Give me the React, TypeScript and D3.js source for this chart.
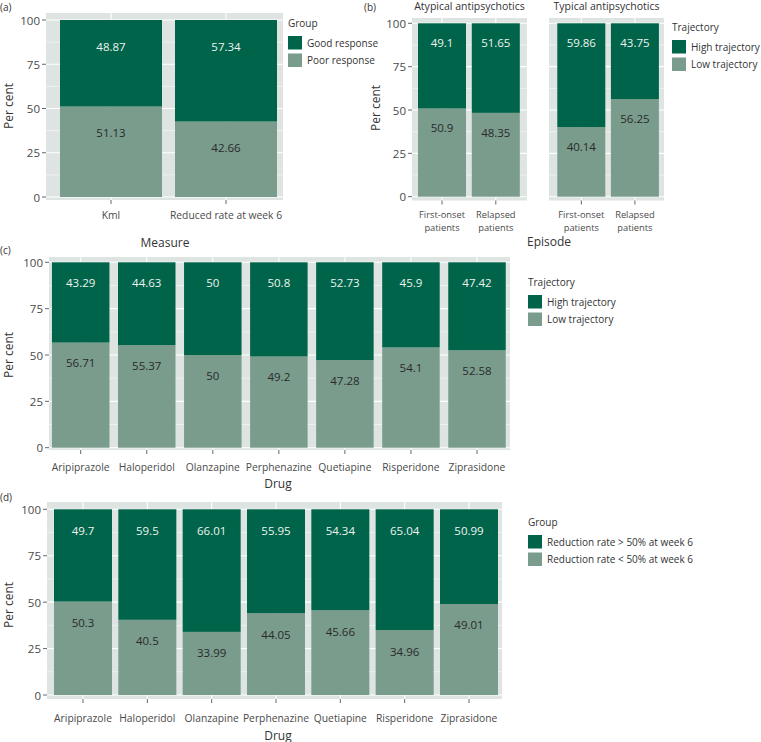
import React from "react";
import * as d3 from "d3";

// ---------- data ----------
const measureCats = ["Kml", "Reduced rate at week 6"];
const goodResponse = [48.87, 57.34];
const poorResponse = [51.13, 42.66];

const facetNames = ["Atypical antipsychotics", "Typical antipsychotics"];
const episodeCats = ["First-onset patients", "Relapsed patients"];
const episodeTickLines = [["First-onset", "patients"], ["Relapsed", "patients"]];
const atypicalHigh = [49.1, 51.65];
const atypicalLow = [50.9, 48.35];
const typicalHigh = [59.86, 43.75];
const typicalLow = [40.14, 56.25];

const drugCats = ["Aripiprazole", "Haloperidol", "Olanzapine", "Perphenazine", "Quetiapine", "Risperidone", "Ziprasidone"];
const drugHighTraj = [43.29, 44.63, 50, 50.8, 52.73, 45.9, 47.42];
const drugLowTraj = [56.71, 55.37, 50, 49.2, 47.28, 54.1, 52.58];
const drugReductionAbove = [49.7, 59.5, 66.01, 55.95, 54.34, 65.04, 50.99];
const drugReductionBelow = [50.3, 40.5, 33.99, 44.05, 45.66, 34.96, 49.01];

const yTicks = [0, 25, 50, 75, 100];
const yMinorTicks = [12.5, 37.5, 62.5, 87.5];

const legendA = { title: "Group", items: ["Good response", "Poor response"] };
const legendB = { title: "Trajectory", items: ["High trajectory", "Low trajectory"] };
const legendD = { title: "Group", items: ["Reduction rate > 50% at week 6", "Reduction rate < 50% at week 6"] };

// ---------- style ----------
const DARK = "#00644a";
const LIGHT = "#7a9c8d";
const PANEL = "#dde4e1";
const FONT = "'Open Sans', 'Noto Sans', sans-serif";
const TXT = "#333333";
const TICKTXT = "#4a4a4a";

type PanelProps = {
  cats: string[];
  top: number[];
  bottom: number[];
  x0: number; x1: number;
  c0: number; c1: number;
  barW: number;
  y0: number; y100: number;
  py0: number; py1: number;
  labelOff: number;
  tickLines?: string[][];
  tickFont: number;
  tickY: number;
  lineGap?: number;
};

function Panel(p: PanelProps) {
  const x = d3.scalePoint<string>().domain(p.cats).range([p.c0, p.c1]);
  const y = d3.scaleLinear().domain([0, 100]).range([p.y0, p.y100]);
  return (
    <g>
      <rect x={p.x0} y={p.py0} width={p.x1 - p.x0} height={p.py1 - p.py0} fill={PANEL} />
      {yMinorTicks.map((t) => (
        <line key={"mn" + t} x1={p.x0} x2={p.x1} y1={y(t)} y2={y(t)} stroke="#ffffff" strokeWidth={0.5} />
      ))}
      {yTicks.map((t) => (
        <line key={"mj" + t} x1={p.x0} x2={p.x1} y1={y(t)} y2={y(t)} stroke="#ffffff" strokeWidth={1.1} />
      ))}
      {p.cats.map((c) => (
        <line key={"vg" + c} x1={x(c)!} x2={x(c)!} y1={p.py0} y2={p.py1} stroke="#ffffff" strokeWidth={1.1} />
      ))}
      {p.cats.map((c, i) => {
        const lo = p.bottom[i];
        const hi = p.top[i];
        const cx = x(c)!;
        return (
          <g key={"bar" + c}>
            <rect x={cx - p.barW / 2} y={y(lo)} width={p.barW} height={y(0) - y(lo)} fill={LIGHT} />
            <rect x={cx - p.barW / 2} y={y(lo + hi)} width={p.barW} height={y(lo) - y(lo + hi)} fill={DARK} />
            <text x={cx} y={y(lo + hi) + p.labelOff} textAnchor="middle" dominantBaseline="central"
              fontSize={11.5} fill="#eef3f0" fontFamily={FONT}>{String(hi)}</text>
            <text x={cx} y={y(lo) + p.labelOff} textAnchor="middle" dominantBaseline="central"
              fontSize={11.5} fill="#2a2a2a" fontFamily={FONT}>{String(lo)}</text>
          </g>
        );
      })}
      {p.cats.map((c, i) => {
        const cx = x(c)!;
        const lines = p.tickLines ? p.tickLines[i] : [c];
        const gap = p.lineGap ?? 11;
        return (
          <g key={"tk" + c}>
            <line x1={cx} x2={cx} y1={p.py1} y2={p.py1 + 4} stroke="#555" strokeWidth={0.9} />
            {lines.map((ln, j) => (
              <text key={j} x={cx} y={p.tickY + j * gap} textAnchor="middle" dominantBaseline="central"
                fontSize={p.tickFont} fill={TICKTXT} fontFamily={FONT}>{ln}</text>
            ))}
          </g>
        );
      })}
    </g>
  );
}

function YAxis({ x, y0, y100 }: { x: number; y0: number; y100: number }) {
  const y = d3.scaleLinear().domain([0, 100]).range([y0, y100]);
  return (
    <g>
      {yTicks.map((t) => (
        <g key={t}>
          <line x1={x - 4} x2={x} y1={y(t)} y2={y(t)} stroke="#555" strokeWidth={0.9} />
          <text x={x - 6} y={y(t)} textAnchor="end" dominantBaseline="central" fontSize={11.5}
            fill={TICKTXT} fontFamily={FONT}>{t}</text>
        </g>
      ))}
    </g>
  );
}

function Legend({ x, y, title, items }: { x: number; y: number; title: string; items: string[] }) {
  const colors = [DARK, LIGHT];
  return (
    <g>
      <text x={x} y={y} dominantBaseline="central" fontSize={10} fill={TXT} fontFamily={FONT}>{title}</text>
      {items.map((it, i) => (
        <g key={it}>
          <rect x={x} y={y + 13 + i * 17.5} width={14} height={13.5} fill={colors[i]} />
          <text x={x + 19} y={y + 13 + i * 17.5 + 6.8} dominantBaseline="central" fontSize={10}
            fill={TXT} fontFamily={FONT}>{it}</text>
        </g>
      ))}
    </g>
  );
}

function YTitle({ x, y }: { x: number; y: number }) {
  return (
    <text transform={`translate(${x},${y}) rotate(-90)`} textAnchor="middle" dominantBaseline="central"
      fontSize={12} fill={TXT} fontFamily={FONT}>Per cent</text>
  );
}

function Tag({ x, y, t }: { x: number; y: number; t: string }) {
  return (
    <text x={x} y={y} dominantBaseline="central" fontSize={10} fill={TXT} fontFamily={FONT}>{t}</text>
  );
}

export default function App() {
  return (
    <svg width={761} height={742} style={{ position: "absolute", left: 0, top: 0, background: "#fff" }}>
      {/* (a) */}
      <Tag x={0} y={7} t="(a)" />
      <YTitle x={8} y={106} />
      <YAxis x={46} y0={197} y100={20} />
      <Panel cats={measureCats} top={goodResponse} bottom={poorResponse}
        x0={46} x1={283} c0={111} c1={226} barW={102}
        y0={197} y100={20} py0={13} py1={200} labelOff={26}
        tickFont={10.3} tickY={215} />
      <text x={165} y={242} textAnchor="middle" dominantBaseline="central" fontSize={12} fill={TXT} fontFamily={FONT}>Measure</text>
      <Legend x={288} y={23} title={legendA.title} items={legendA.items} />

      {/* (b) */}
      <Tag x={364} y={7} t="(b)" />
      <YTitle x={375} y={108} />
      <YAxis x={412} y0={196.7} y100={23.3} />
      <text x={469.5} y={6} textAnchor="middle" dominantBaseline="central" fontSize={10.5} fill={TXT} fontFamily={FONT}>{facetNames[0]}</text>
      <text x={606.5} y={6} textAnchor="middle" dominantBaseline="central" fontSize={10.5} fill={TXT} fontFamily={FONT}>{facetNames[1]}</text>
      <Panel cats={episodeCats} top={atypicalHigh} bottom={atypicalLow}
        x0={412} x1={527} c0={442} c1={495.8} barW={48}
        y0={196.7} y100={23.3} py0={18} py1={200.5} labelOff={19.5}
        tickLines={episodeTickLines} tickFont={9.3} tickY={214.5} lineGap={12.5} />
      <Panel cats={episodeCats} top={typicalHigh} bottom={typicalLow}
        x0={549} x1={664} c0={581.3} c1={634.9} barW={48}
        y0={196.7} y100={23.3} py0={18} py1={200.5} labelOff={19.5}
        tickLines={episodeTickLines} tickFont={9.3} tickY={214.5} lineGap={12.5} />
      <text x={549} y={241} textAnchor="middle" dominantBaseline="central" fontSize={12} fill={TXT} fontFamily={FONT}>Episode</text>
      <Legend x={672} y={27} title={legendB.title} items={legendB.items} />

      {/* (c) */}
      <Tag x={0} y={250} t="(c)" />
      <YTitle x={8} y={355} />
      <YAxis x={49} y0={447.7} y100={262.3} />
      <Panel cats={drugCats} top={drugHighTraj} bottom={drugLowTraj}
        x0={49} x1={510} c0={80.7} c1={477} barW={57.5}
        y0={447.7} y100={262.3} py0={257} py1={450} labelOff={20}
        tickFont={10.3} tickY={467} />
      <text x={278} y={483} textAnchor="middle" dominantBaseline="central" fontSize={12} fill={TXT} fontFamily={FONT}>Drug</text>
      <Legend x={528} y={282} title={legendB.title} items={legendB.items} />

      {/* (d) */}
      <Tag x={0} y={497} t="(d)" />
      <YTitle x={8} y={605} />
      <YAxis x={47} y0={695} y100={509.3} />
      <Panel cats={drugCats} top={drugReductionAbove} bottom={drugReductionBelow}
        x0={47} x1={502} c0={83} c1={469} barW={58}
        y0={695} y100={509.3} py0={502} py1={699} labelOff={21}
        tickFont={10.3} tickY={718} />
      <text x={278} y={735} textAnchor="middle" dominantBaseline="central" fontSize={12} fill={TXT} fontFamily={FONT}>Drug</text>
      <Legend x={528} y={522} title={legendD.title} items={legendD.items} />
    </svg>
  );
}
